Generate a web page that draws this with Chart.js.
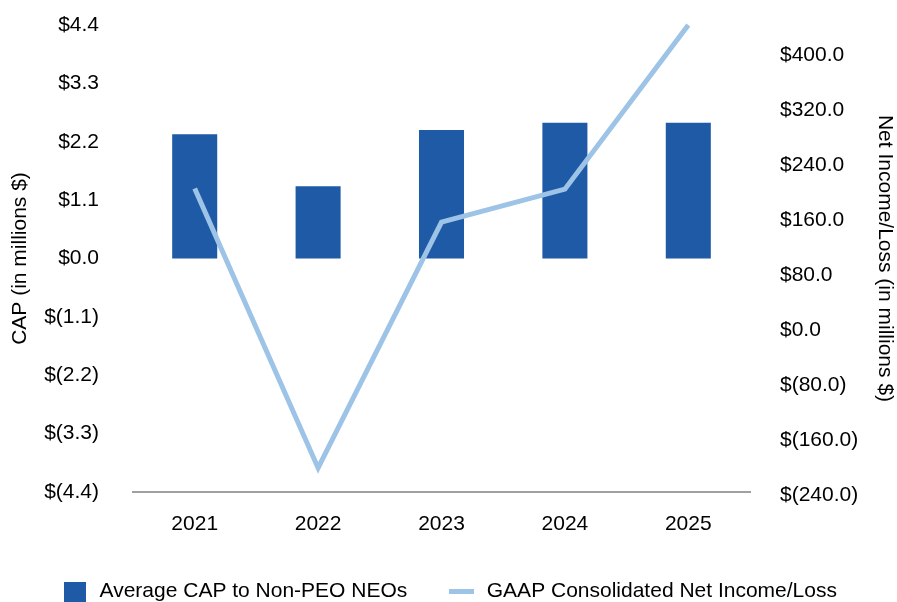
<!DOCTYPE html>
<html>
<head>
<meta charset="utf-8">
<title>CAP vs Net Income</title>
<script src="https://cdn.jsdelivr.net/npm/chart.js@4/dist/chart.umd.min.js"></script>
<style>
  html, body { margin: 0; padding: 0; background: #fff; }
  #wrap { position: relative; width: 897px; height: 602px; }
</style>
</head>
<body>
<div id="wrap"><canvas id="capChart"></canvas></div>
<script>
// --- data ---
const years = ['2021', '2022', '2023', '2024', '2025'];
const avgCap = [2.34, 1.36, 2.42, 2.56, 2.56];          // $ millions, left axis
const netIncome = [202, -205, 153, 201, 440];           // $ millions, right axis
const capTicks = [-4.4, -3.3, -2.2, -1.1, 0, 1.1, 2.2, 3.3, 4.4];
const incomeTicks = [-240, -160, -80, 0, 80, 160, 240, 320, 400];

const BAR_BLUE = '#1f5aa6';
const LINE_BLUE = '#9dc3e6';
const FONT = "'Liberation Sans', Arial, sans-serif";

// accounting style money labels: $1.1 / $(1.1)
function money(v, digits) {
    const s = Math.abs(v).toFixed(digits);
    return v < 0 ? '$(' + s + ')' : '$' + s;
}

// small swatches used as legend markers
function swatch(w, h, color) {
    const c = document.createElement('canvas');
    c.width = w; c.height = h;
    const ctx = c.getContext('2d');
    ctx.fillStyle = color;
    ctx.fillRect(0, 0, w, h);
    return c;
}
const barMarker = swatch(22, 20, BAR_BLUE);
const lineMarker = swatch(25, 5, LINE_BLUE);

// fixed axis widths, and no extra room for the end tick labels
function fixWidth(w) {
    return (scale) => {
        scale.width = w;
        scale.paddingTop = 0;
        scale.paddingBottom = 0;
    };
}

Chart.defaults.font.family = FONT;
Chart.defaults.font.size = 21;
Chart.defaults.color = '#000';

new Chart(document.getElementById('capChart'), {
    data: {
        labels: years,
        datasets: [
            {
                type: 'line',
                label: 'GAAP Consolidated Net Income/Loss',
                data: netIncome,
                yAxisID: 'y1',
                borderColor: LINE_BLUE,
                borderWidth: 5,
                pointRadius: 0,
                tension: 0,
                clip: false,
                order: 0
            },
            {
                type: 'bar',
                label: 'Average CAP to Non-PEO NEOs',
                data: avgCap,
                yAxisID: 'y',
                backgroundColor: BAR_BLUE,
                barPercentage: 0.365,
                categoryPercentage: 1,
                order: 1
            }
        ]
    },
    options: {
        responsive: true,
        maintainAspectRatio: false,
        animation: false,
        layout: { padding: { top: 25, left: 0, right: 0, bottom: -10 } },
        plugins: {
            tooltip: { enabled: false },
            legend: {
                position: 'bottom',
                labels: {
                    usePointStyle: true,
                    pointStyleWidth: 29,
                    padding: 40,
                    font: { size: 21 },
                    generateLabels: () => [
                        { text: 'Average CAP to Non-PEO NEOs', pointStyle: barMarker, datasetIndex: 1, fontColor: '#000' },
                        { text: 'GAAP Consolidated Net Income/Loss', pointStyle: lineMarker, datasetIndex: 0, fontColor: '#000' }
                    ]
                }
            }
        },
        scales: {
            x: {
                offset: true,
                grid: { display: false },
                border: { display: true, color: '#a0a0a0', width: 2 },
                ticks: { padding: 12 },
                afterFit: (scale) => { scale.height = 49; }
            },
            y: {
                position: 'left',
                min: -4.4,
                max: 4.4,
                grid: { display: false },
                border: { display: false },
                afterBuildTicks: (scale) => { scale.ticks = capTicks.map(v => ({ value: v })); },
                ticks: { padding: 26, callback: (v) => money(v, 1) },
                title: {
                    display: true,
                    text: 'CAP (in millions $)',
                    padding: { top: 8, bottom: 0 }
                },
                afterFit: fixWidth(133)
            },
            y1: {
                position: 'right',
                min: -240,
                max: 440,
                grid: { display: false },
                border: { display: false },
                afterBuildTicks: (scale) => { scale.ticks = incomeTicks.map(v => ({ value: v })); },
                ticks: { padding: 22, labelOffset: 3, callback: (v) => money(v, 1) },
                title: {
                    display: true,
                    text: 'Net Income/Loss (in millions $)',
                    padding: { top: 0, bottom: 0 }
                },
                afterFit: fixWidth(147)
            }
        }
    }
});
</script>
</body>
</html>
